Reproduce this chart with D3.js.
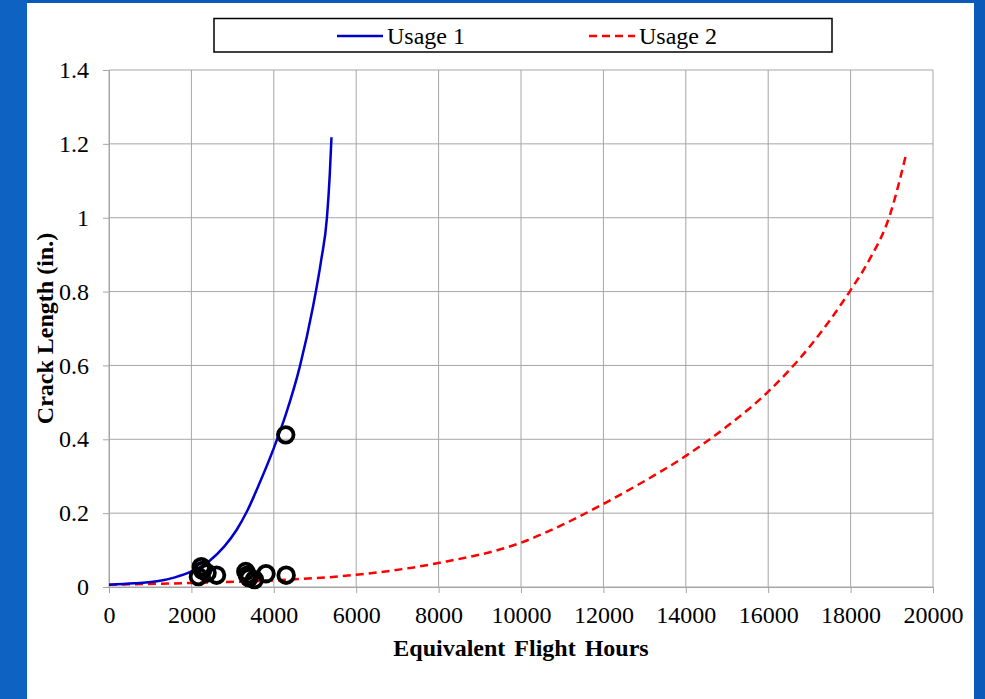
<!DOCTYPE html>
<html>
<head>
<meta charset="utf-8">
<script src="https://cdnjs.cloudflare.com/ajax/libs/d3/7.8.5/d3.min.js"></script>
<style>
  body { margin: 0; padding: 0; overflow: hidden; }
  .grid line { stroke: #a6a6a6; stroke-width: 1; }
  .axis path, .axis line { stroke: #a6a6a6; }
</style>
</head>
<body>
<div id="chart"></div>
<script>
// values
var usage1Hours = [0, 600, 1200, 1600, 2000, 2450, 2800, 3100, 3350, 3650, 4000, 4300, 4630, 4950, 5150, 5290, 5360, 5400];
var usage1Crack = [0.006, 0.010, 0.016, 0.026, 0.042, 0.072, 0.110, 0.155, 0.205, 0.280, 0.376, 0.470, 0.596, 0.758, 0.885, 1.000, 1.120, 1.218];

var usage2Hours = [0, 2000, 4000, 6000, 8000, 10000, 11000, 12000, 13000, 14000, 15000, 16000, 17000, 18000, 18450, 18950, 19350];
var usage2Crack = [0.006, 0.011, 0.018, 0.033, 0.065, 0.120, 0.168, 0.225, 0.287, 0.355, 0.435, 0.529, 0.650, 0.804, 0.885, 1.006, 1.173];

var findingHours = [2170, 2240, 2270, 2380, 2610, 3320, 3360, 3400, 3530, 3810, 4300, 4290];
var findingCrack = [0.028, 0.055, 0.045, 0.038, 0.032, 0.042, 0.032, 0.025, 0.020, 0.036, 0.032, 0.412];

var xTicks = [0, 2000, 4000, 6000, 8000, 10000, 12000, 14000, 16000, 18000, 20000];
var yTicks = [0, 0.2, 0.4, 0.6, 0.8, 1, 1.2, 1.4];
var seriesNames = ["Usage 1", "Usage 2"];

var FONT = "'Times New Roman', 'Liberation Serif', Times, serif";

var W = 985, H = 699;
var margin = { top: 70, right: 52, bottom: 112, left: 109 },
    width = W - margin.left - margin.right,
    height = H - margin.top - margin.bottom;

var svg = d3.select("#chart").append("svg")
            .attr("width", W)
            .attr("height", H);

// blue slide background + white panel
svg.append("rect").attr("width", W).attr("height", H).attr("fill", "#0a5bb9");
svg.append("rect").attr("x", 0).attr("y", 0).attr("width", 27).attr("height", H)
   .attr("fill", "#0e63c2");
svg.append("rect").attr("x", 27).attr("y", 3).attr("width", 947).attr("height", H - 3)
   .attr("fill", "#ffffff");

var g = svg.append("g")
           .attr("transform", "translate(" + margin.left + "," + margin.top + ")");

var x = d3.scaleLinear().domain([0, 20000]).range([0, width]);
var y = d3.scaleLinear().domain([0, 1.4]).range([height, 0]);

// grid lines
g.append("g").attr("class", "grid")
  .selectAll("line").data(yTicks).enter().append("line")
  .attr("x1", 0).attr("x2", width)
  .attr("y1", function(d) { return y(d); })
  .attr("y2", function(d) { return y(d); });

g.append("g").attr("class", "grid")
  .selectAll("line").data(xTicks).enter().append("line")
  .attr("y1", 0).attr("y2", height)
  .attr("x1", function(d) { return x(d); })
  .attr("x2", function(d) { return x(d); });

// axes
var xAxis = g.append("g")
  .attr("class", "x axis")
  .attr("transform", "translate(0," + height + ")")
  .call(d3.axisBottom(x).tickValues(xTicks).tickSize(6).tickPadding(13).tickFormat(d3.format("d")));

var yAxis = g.append("g")
  .attr("class", "y axis")
  .call(d3.axisLeft(y).tickValues(yTicks).tickSize(6).tickPadding(14).tickFormat(function(d) { return String(d); }));

svg.selectAll(".axis")
  .attr("font-family", FONT)
  .attr("font-size", 24);
svg.selectAll(".axis text").attr("fill", "#000");
svg.selectAll(".axis .domain").attr("stroke", "#a6a6a6");

// curves
var line = d3.line()
             .curve(d3.curveMonotoneX)
             .x(function(d) { return x(d[0]); })
             .y(function(d) { return y(d[1]); });

g.append("path")
  .attr("d", line(d3.zip(usage2Hours, usage2Crack)))
  .attr("fill", "none")
  .attr("stroke", "#ff0000")
  .attr("stroke-width", 2.5)
  .attr("stroke-dasharray", "8,5");

g.append("path")
  .attr("d", line(d3.zip(usage1Hours, usage1Crack)))
  .attr("fill", "none")
  .attr("stroke", "#0000cc")
  .attr("stroke-width", 2.5);

// field findings
g.selectAll(".finding")
  .data(d3.zip(findingHours, findingCrack))
  .enter().append("circle")
  .attr("class", "finding")
  .attr("cx", function(d) { return x(d[0]); })
  .attr("cy", function(d) { return y(d[1]); })
  .attr("r", 7.8)
  .attr("fill", "none")
  .attr("stroke", "#000")
  .attr("stroke-width", 3.8);

// x axis label
svg.append("text")
  .attr("font-family", FONT)
  .style("text-anchor", "middle")
  .style("font-size", "24px")
  .style("font-weight", "bold")
  .style("word-spacing", "3px")
  .attr("x", margin.left + width / 2)
  .attr("y", 656)
  .text("Equivalent Flight Hours");

// y axis label
svg.append("text")
  .attr("font-family", FONT)
  .style("text-anchor", "middle")
  .style("font-size", "24px")
  .style("font-weight", "bold")
  .attr("transform", "translate(53," + (margin.top + height / 2) + ") rotate(-90)")
  .text("Crack Length (in.)");

// legend
var legend = svg.append("g");
legend.append("rect")
  .attr("x", 214).attr("y", 18.5).attr("width", 618).attr("height", 33.5)
  .attr("fill", "#fff").attr("stroke", "#000").attr("stroke-width", 1.5);

var legendX = [337, 589];
var legendStyles = [{ color: "#0000cc", dash: null }, { color: "#ff0000", dash: "8,5" }];
seriesNames.forEach(function(name, i) {
  legend.append("line")
    .attr("x1", legendX[i]).attr("x2", legendX[i] + 46)
    .attr("y1", 36).attr("y2", 36)
    .attr("stroke", legendStyles[i].color)
    .attr("stroke-width", 2.5)
    .attr("stroke-dasharray", legendStyles[i].dash);
  legend.append("text")
    .attr("font-family", FONT)
    .attr("x", legendX[i] + 50)
    .attr("y", 44)
    .style("font-size", "24px")
    .text(name);
});
</script>
</body>
</html>
